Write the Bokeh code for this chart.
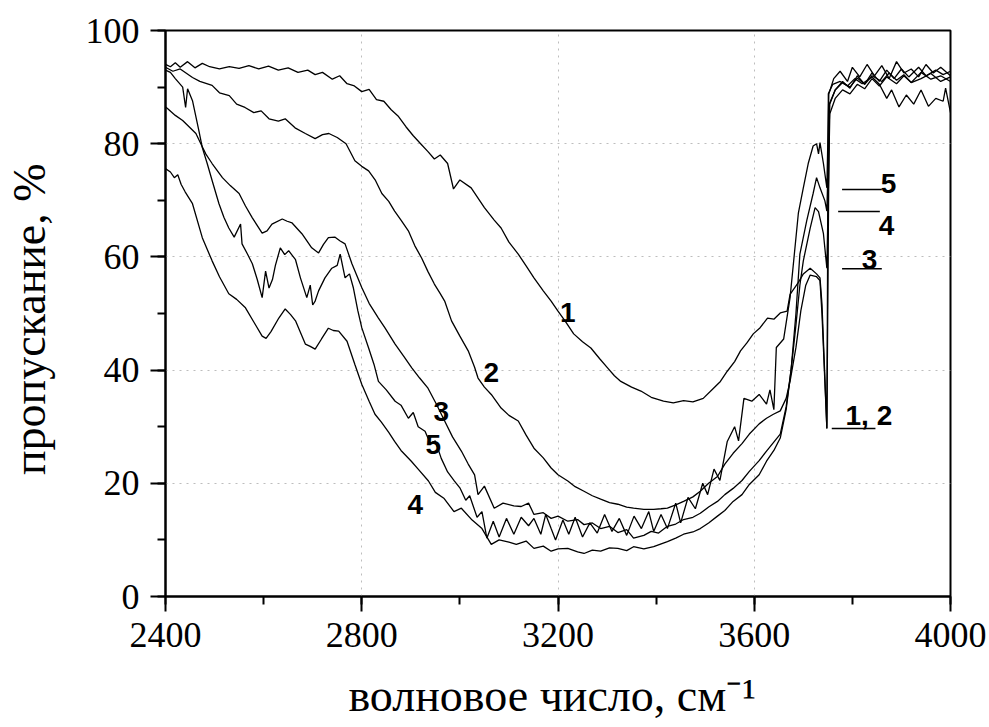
from bokeh.plotting import figure
from bokeh.models import Range1d, SingleIntervalTicker, Label
from bokeh.embed import file_html
from bokeh.resources import INLINE

# ---- data: (wavenumber cm^-1, transmittance %) ----
curve1 = [(2400,94.0),(2410,93.6),(2420,94.3),(2430,93.5),(2445,94.5),(2460,93.4),(2475,94.2),(2490,93.6),(2510,93.2),(2530,93.6),
          (2550,93.3),(2570,93.8),(2590,93.2),(2610,93.7),(2630,93.0),(2650,93.4),(2670,92.6),(2690,93.0),(2705,92.2),(2720,92.6),
          (2740,91.4),(2755,92.0),(2770,90.6),(2785,90.2),(2800,89.2),(2815,89.6),(2830,87.8),(2845,87.5),(2860,86.0),(2875,84.8),
          (2890,83.0),(2905,81.4),(2920,80.0),(2935,78.6),(2948,77.3),(2960,78.0),(2975,76.5),(2987,72.0),(3000,73.6),(3023,72.2),
          (3050,68.7),(3070,66.5),(3084,65.1),(3100,62.6),(3119,60.5),(3135,58.4),(3151,56.3),(3170,54.0),(3186,52.2),(3200,50.4),
          (3215,48.6),(3232,46.4),(3250,45.0),(3267,43.9),(3285,42.0),(3301,40.4),(3315,39.0),(3328,38.0),(3350,37.0),(3369,36.3),
          (3390,35.2),(3415,34.5),(3435,34.2),(3456,34.6),(3475,34.4),(3496,35.0),(3517,36.8),(3531,38.0),(3545,39.8),(3560,41.5),
          (3572,43.4),(3585,44.8),(3598,46.4),(3612,47.5),(3627,49.2),(3640,49.0),(3653,50.1),(3667,50.4),(3673,53.4),(3690,55.5),
          (3700,57.0),(3714,58.0),(3727,57.0),(3734,56.3),(3738,51.7),(3748,29.7),(3751,88.8),(3760,90.5),(3775,91.0),(3790,90.2),
          (3805,91.5),(3820,90.6),(3840,91.8),(3855,90.5),(3870,88.0),(3880,89.5),(3895,86.5),(3910,88.6),(3925,87.0),(3940,89.5),
          (3955,86.6),(3970,88.0),(3985,87.5),(3990,89.8),(4000,85.5)]

curve2 = [(2400,93.5),(2415,92.8),(2430,93.2),(2455,91.7),(2470,91.0),(2495,90.3),(2510,89.0),(2530,88.5),(2545,87.0),(2562,86.4),
          (2580,85.5),(2595,85.8),(2611,84.4),(2630,84.0),(2644,84.4),(2664,82.8),(2685,81.8),(2705,80.9),(2720,81.6),(2733,81.8),
          (2750,81.1),(2768,80.0),(2786,77.0),(2800,76.0),(2814,75.2),(2828,73.5),(2841,71.2),(2855,69.8),(2867,68.1),(2880,66.5),
          (2895,64.6),(2908,62.0),(2922,59.8),(2935,57.4),(2948,55.2),(2960,53.5),(2969,52.2),(2983,48.7),(3000,46.0),(3017,43.4),
          (3030,40.5),(3037,38.6),(3050,37.0),(3064,35.7),(3084,33.3),(3100,32.0),(3119,31.0),(3135,28.5),(3151,26.2),(3170,24.5),
          (3186,22.7),(3200,21.5),(3220,20.4),(3235,19.4),(3253,18.6),(3270,17.8),(3287,17.2),(3305,16.6),(3322,16.3),(3340,15.8),
          (3354,15.6),(3375,15.4),(3395,15.4),(3410,15.5),(3423,15.6),(3440,16.2),(3456,16.8),(3475,17.6),(3490,18.6),(3507,20.0),
          (3525,21.2),(3540,23.4),(3557,25.3),(3575,27.0),(3590,28.7),(3610,30.5),(3625,31.5),(3639,32.2),(3653,32.8),(3665,35.0),
          (3673,38.0),(3685,44.0),(3695,50.5),(3705,55.0),(3714,56.8),(3727,56.5),(3734,55.8),(3738,50.0),(3748,29.7),(3753,87.0),
          (3765,89.5),(3780,90.8),(3795,90.0),(3810,91.6),(3825,90.5),(3840,92.0),(3860,91.0),(3875,92.5),(3890,91.2),(3905,92.2),
          (3920,90.8),(3940,92.6),(3960,91.4),(3980,92.0),(4000,91.0)]

curve3 = [(2400,86.5),(2404,86.2),(2420,85.0),(2435,84.1),(2448,83.0),(2462,81.8),(2472,80.0),(2482,78.2),(2495,76.5),(2516,74.0),
          (2532,72.6),(2550,71.2),(2563,69.0),(2577,66.9),(2597,64.2),(2607,64.6),(2617,65.8),(2638,66.7),(2648,66.3),(2658,66.0),
          (2678,64.1),(2698,61.6),(2712,60.7),(2722,62.2),(2732,63.4),(2745,63.5),(2756,62.8),(2766,62.3),(2780,58.8),(2800,54.6),
          (2815,51.8),(2834,49.2),(2847,47.5),(2868,44.6),(2885,42.5),(2902,40.4),(2918,38.6),(2935,36.8),(2952,34.0),(2969,31.0),
          (2985,28.2),(3003,25.7),(3017,23.4),(3030,21.5),(3037,18.0),(3050,19.5),(3070,15.6),(3088,16.5),(3110,16.0),(3125,15.9),
          (3140,16.5),(3151,14.5),(3170,14.8),(3186,13.8),(3200,14.2),(3220,13.3),(3240,13.6),(3253,12.7),(3270,13.0),(3287,12.0),
          (3305,12.4),(3322,11.3),(3340,11.8),(3354,10.3),(3375,10.8),(3390,11.5),(3405,11.2),(3423,12.4),(3440,12.8),(3456,13.6),
          (3475,14.0),(3490,14.7),(3507,15.8),(3525,16.8),(3540,18.0),(3557,19.1),(3575,20.5),(3590,22.1),(3610,24.0),(3625,25.7),
          (3653,28.7),(3665,33.5),(3675,40.0),(3685,48.0),(3693,55.0),(3700,59.3),(3714,65.1),(3724,68.7),(3731,68.0),(3741,64.1),
          (3748,58.0),(3754,85.3),(3765,88.0),(3780,89.5),(3795,88.8),(3810,90.5),(3825,89.7),(3840,91.5),(3855,90.2),(3870,91.8),
          (3890,90.6),(3905,92.0),(3920,90.8),(3940,91.5),(3960,92.4),(3980,91.0),(4000,91.8)]

curve4 = [(2400,75.6),(2410,75.0),(2418,74.0),(2425,74.5),(2432,72.8),(2440,71.5),(2455,69.4),(2475,63.4),(2495,59.3),(2510,56.5),
          (2529,53.5),(2545,52.5),(2563,51.0),(2580,48.5),(2597,46.0),(2605,45.6),(2615,46.8),(2631,49.2),(2644,50.8),(2655,49.8),
          (2665,48.7),(2685,44.6),(2695,44.2),(2705,43.7),(2718,45.5),(2732,47.4),(2742,47.0),(2753,46.9),(2770,45.1),(2786,41.0),
          (2800,37.5),(2815,34.5),(2827,32.2),(2840,30.8),(2855,29.0),(2867,27.4),(2880,25.8),(2901,23.9),(2915,22.5),(2936,20.4),
          (2950,18.4),(2968,17.3),(2988,15.0),(3003,15.6),(3025,13.5),(3045,12.0),(3064,9.2),(3080,10.0),(3100,9.6),(3115,9.2),
          (3135,9.8),(3151,8.5),(3170,8.9),(3186,8.0),(3200,8.4),(3220,8.5),(3240,7.9),(3253,7.6),(3270,8.2),(3287,8.0),
          (3305,8.6),(3322,8.5),(3340,8.1),(3354,8.8),(3375,8.4),(3395,8.8),(3423,9.7),(3440,10.3),(3456,11.0),(3475,11.4),
          (3490,12.0),(3507,13.0),(3525,14.2),(3540,15.2),(3557,16.8),(3575,18.0),(3590,19.8),(3610,21.5),(3625,23.9),(3640,25.8),
          (3653,28.0),(3665,33.0),(3675,40.0),(3685,50.0),(3693,60.5),(3707,66.4),(3720,71.2),(3727,74.0),(3734,72.2),(3744,69.9),
          (3748,68.1),(3754,87.0),(3765,89.5),(3780,91.0),(3795,89.8),(3810,92.0),(3825,90.5),(3840,92.5),(3855,91.0),(3870,93.0),
          (3885,91.5),(3900,93.2),(3915,91.8),(3935,93.5),(3950,92.0),(3970,93.0),(3985,92.2),(4000,92.8)]

curve5 = [(2400,93.0),(2410,92.6),(2420,91.5),(2435,90.0),(2441,86.4),(2445,89.7),(2455,87.6),(2468,82.3),(2475,79.3),(2485,76.5),
          (2495,73.5),(2509,69.4),(2519,67.0),(2529,65.1),(2540,63.5),(2553,65.8),(2556,62.3),(2567,60.5),(2577,58.8),(2587,56.0),
          (2597,52.8),(2604,57.5),(2611,54.5),(2618,56.0),(2624,58.5),(2634,61.6),(2643,60.4),(2651,61.1),(2665,59.5),(2675,56.3),
          (2688,52.8),(2695,55.0),(2700,51.5),(2705,52.2),(2712,54.0),(2725,56.3),(2739,58.0),(2750,58.5),(2756,60.5),(2766,56.3),
          (2775,57.0),(2783,54.5),(2792,50.5),(2800,47.5),(2814,43.9),(2825,41.0),(2834,38.0),(2850,36.5),(2868,34.5),(2880,33.8),
          (2895,31.5),(2905,32.5),(2915,30.0),(2929,29.2),(2940,27.0),(2950,27.5),(2962,24.4),(2975,22.0),(2989,20.4),(3000,19.2),
          (3012,17.0),(3020,17.8),(3035,14.0),(3045,15.0),(3055,10.3),(3068,13.3),(3080,10.5),(3095,13.8),(3110,11.0),(3125,14.0),
          (3140,12.5),(3151,13.8),(3165,11.0),(3175,14.5),(3186,12.0),(3195,10.0),(3210,13.5),(3222,11.0),(3235,14.0),(3250,10.5),
          (3265,13.0),(3280,11.2),(3295,14.5),(3310,11.5),(3325,13.8),(3340,10.8),(3355,14.2),(3370,12.0),(3385,15.0),(3395,11.5),
          (3410,14.5),(3423,12.0),(3440,16.5),(3450,13.0),(3465,17.5),(3480,15.5),(3495,20.0),(3505,18.0),(3518,22.5),(3530,20.5),
          (3545,27.4),(3560,30.0),(3568,27.5),(3579,35.0),(3595,34.5),(3610,35.7),(3625,34.0),(3632,36.5),(3640,33.0),(3645,44.0),
          (3660,45.5),(3673,52.8),(3690,67.8),(3700,72.2),(3710,76.5),(3720,79.6),(3727,80.0),(3731,78.2),(3734,80.2),(3741,76.5),
          (3748,72.2),(3752,88.8),(3762,91.5),(3775,92.8),(3790,91.0),(3800,93.5),(3815,91.8),(3830,94.0),(3845,92.0),(3860,93.8),
          (3875,91.5),(3890,94.5),(3905,92.5),(3920,93.2),(3935,91.8),(3950,94.0),(3965,92.5),(3980,93.5),(4000,92.0)]

curves = [curve1, curve2, curve3, curve4, curve5]

x_ticks_interval = 400
y_ticks_interval = 20
x_title = "волновое число,  см\u207b\u00b9"
y_title = "пропускание,  %"

# curve number labels (text, x, y) placed next to the curves
curve_labels = [("1", 3204, 50.1), ("2", 3048, 39.6), ("3", 2946, 32.7), ("5", 2930, 26.9), ("4", 2893, 16.3)]
# labels at the right with their marker lines (text, text_x, text_y, line_x0, line_x1, line_y)
side_labels = [("5", 3858, 72.9, 3779, 3860, 71.9),
               ("4", 3854, 65.5, 3771, 3856, 68.0),
               ("3", 3819, 59.6, 3779, 3860, 57.9),
               ("1, 2", 3786, 31.9, 3758, 3847, 29.7)]

p = figure(width=989, height=727, output_backend="svg", toolbar_location=None,
           x_range=Range1d(2400, 4000), y_range=Range1d(0, 100),
           min_border_left=163, min_border_right=39, min_border_top=30, min_border_bottom=131)
p.background_fill_color = "white"
p.border_fill_color = "white"
p.outline_line_color = "black"
p.outline_line_width = 2

for c in curves:
    xs = [a for a, b in c]
    ys = [b for a, b in c]
    p.line(xs, ys, line_color="black", line_width=1.3)

p.xaxis.ticker = SingleIntervalTicker(interval=x_ticks_interval, num_minor_ticks=2)
p.yaxis.ticker = SingleIntervalTicker(interval=y_ticks_interval, num_minor_ticks=2)
for ax in p.axis:
    ax.axis_line_width = 2
    ax.axis_line_color = "black"
    ax.major_tick_line_width = 2
    ax.major_tick_line_color = "black"
    ax.major_tick_out = 15
    ax.major_tick_in = 0
    ax.minor_tick_line_width = 2
    ax.minor_tick_line_color = "black"
    ax.minor_tick_out = 8
    ax.minor_tick_in = 0
    ax.major_label_text_font = "Liberation Serif"
    ax.major_label_text_font_size = "36px"
    ax.major_label_text_color = "black"
    ax.axis_label_text_font = "Liberation Serif"
    ax.axis_label_text_font_size = "46px"
    ax.axis_label_text_font_style = "normal"
    ax.axis_label_text_color = "black"
p.xaxis.major_label_standoff = 11
p.yaxis.major_label_standoff = 11
p.xaxis.axis_label = x_title
p.yaxis.axis_label = y_title
p.xaxis.axis_label_standoff = 20
p.yaxis.axis_label_standoff = 28

for g in (p.xgrid, p.ygrid):
    g.grid_line_color = "#bdbdbd"
    g.grid_line_dash = "2 5"
    g.grid_line_width = 1

for t, lx, ly in curve_labels:
    p.add_layout(Label(x=lx, y=ly, text=t, text_align="left", text_baseline="alphabetic",
                       text_font="Liberation Sans", text_font_style="bold", text_font_size="28px",
                       text_color="black"))
for t, tx, ty, x0, x1, y0 in side_labels:
    p.segment(x0=[x0], y0=[y0], x1=[x1], y1=[y0], line_color="black", line_width=1.5)
    p.add_layout(Label(x=tx, y=ty, text=t, text_align="left", text_baseline="alphabetic",
                       text_font="Liberation Sans", text_font_style="bold", text_font_size="28px",
                       text_color="black"))

open("out.html", "w").write(file_html(p, INLINE))
